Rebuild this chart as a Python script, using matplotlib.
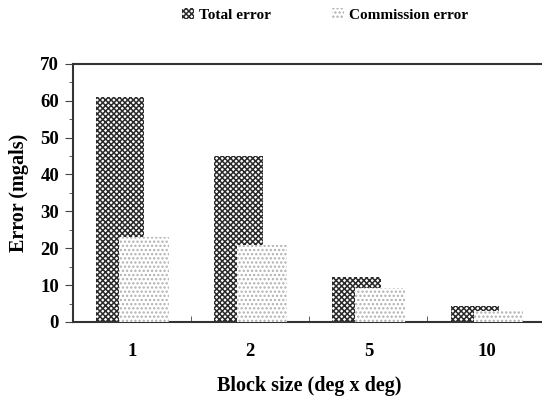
import matplotlib.pyplot as plt
import numpy as np

categories = ['1', '2', '5', '10']
total_error = [61, 45, 12.2, 4.4]
commission_error = [23, 21, 9.2, 3.0]

plt.rcParams['font.family'] = ['Liberation Serif', 'DejaVu Serif']
plt.rcParams['font.weight'] = 'bold'
plt.rcParams['hatch.linewidth'] = 1.1

fig = plt.figure(figsize=(5.42, 4.04), dpi=100)
ax = fig.add_axes([0.1347, 0.203, 0.872, 0.639])

x = np.arange(len(categories))
ax.bar(x - 0.1, total_error, width=0.41, color='white', edgecolor='#2a2a2a',
       hatch='xxxxxx', linewidth=0, label='Total error', zorder=2)
ax.bar(x + 0.1, commission_error, width=0.42, color='white', edgecolor='#b0b0b0',
       hatch='....', linewidth=0, label='Commission error', zorder=3)

ax.set_xlim(-0.5, 3.5)
ax.set_ylim(0, 70)
ax.set_yticks(range(0, 71, 10))
ax.set_yticks(range(5, 70, 10), minor=True)
ax.set_xticks(x)
ax.set_xticklabels(categories)
ax.set_xticks(np.arange(0.5, 3.5, 1), minor=True)
ax.tick_params(axis='x', which='major', length=0, pad=15, labelsize=13.5)
ax.tick_params(axis='x', which='minor', direction='in', length=4, color='#444444')
ax.tick_params(axis='y', which='major', direction='out', length=6, labelsize=13.5,
               color='#444444', pad=4)
ax.tick_params(axis='y', which='minor', direction='out', length=3, color='#444444')

for side in ['left', 'bottom', 'top']:
    ax.spines[side].set_linewidth(1.5)
    ax.spines[side].set_color('#333333')
ax.spines['right'].set_visible(False)

ax.set_ylabel('Error (mgals)', fontsize=14.5, fontweight='bold', labelpad=8)
ax.set_xlabel('Block size (deg x deg)', fontsize=14.5, fontweight='bold', labelpad=12)

fig.legend(loc='upper center', bbox_to_anchor=(0.6, 1.015), ncol=2, frameon=False,
           fontsize=11, handlelength=0.8, handleheight=0.8, columnspacing=4,
           handletextpad=0.3)

fig.savefig('out.png', dpi=100)
